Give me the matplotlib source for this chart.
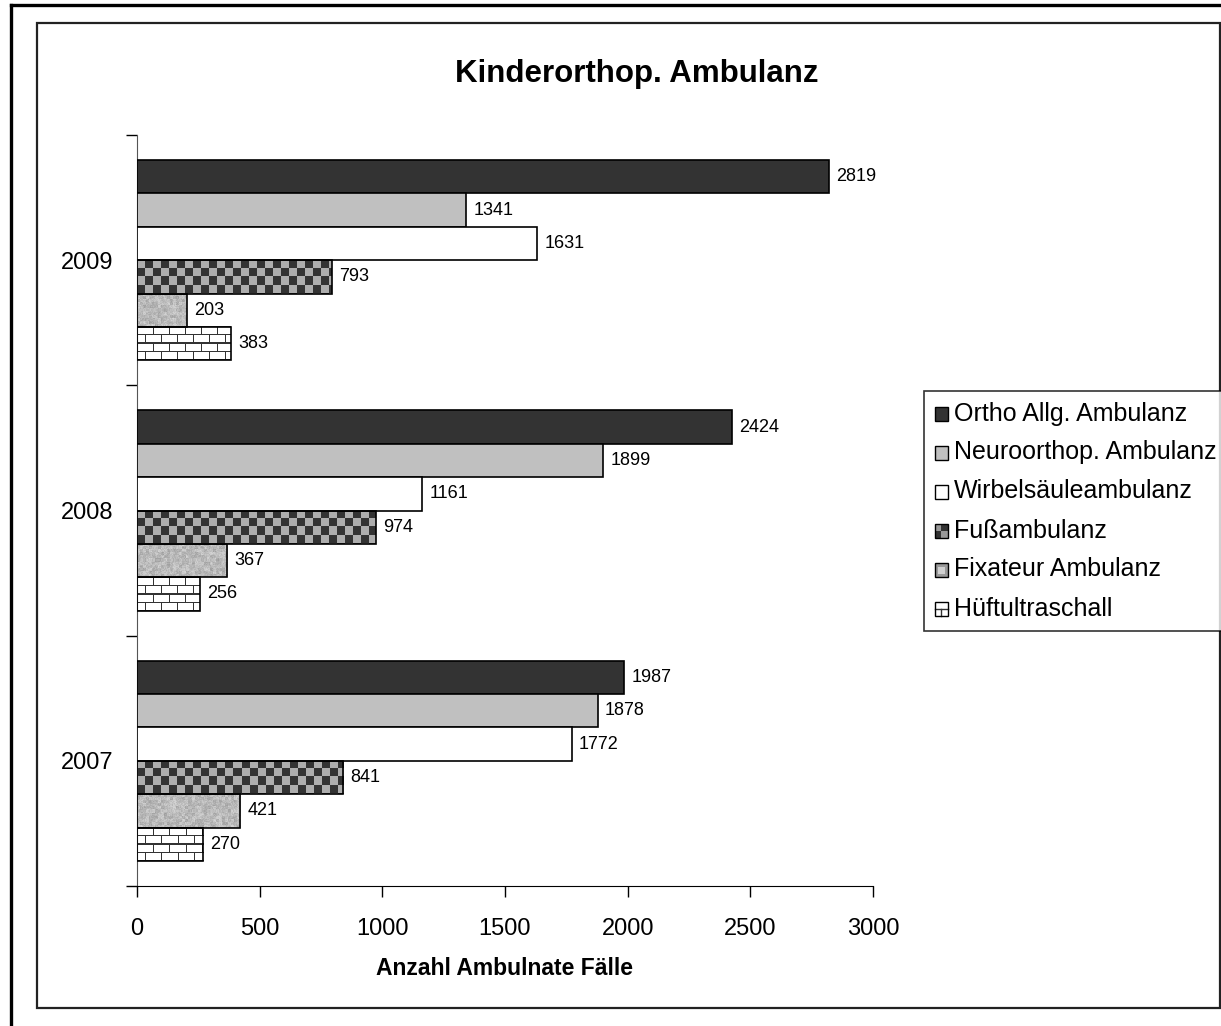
import numpy as np
import matplotlib.pyplot as plt
from matplotlib.patches import Rectangle
from matplotlib.lines import Line2D
from matplotlib.legend_handler import HandlerBase

plt.rcParams['font.family'] = ['Liberation Sans', 'DejaVu Sans']

years = ['2007', '2008', '2009']
series = ['Ortho Allg. Ambulanz', 'Neuroorthop. Ambulanz', 'Wirbelsäuleambulanz',
          'Fußambulanz', 'Fixateur Ambulanz', 'Hüftultraschall']
ortho = [1987, 2424, 2819]
neuro = [1878, 1899, 1341]
wirbel = [1772, 1161, 1631]
fuss = [841, 974, 793]
fixateur = [421, 367, 203]
hueft = [270, 256, 383]
values = [ortho, neuro, wirbel, fuss, fixateur, hueft]
styles = ['#333333', '#c0c0c0', '#ffffff', 'checker', 'granite', 'brick']

W, H = 1221, 1026
fig = plt.figure(figsize=(W / 100, H / 100), dpi=100)
ax_l, ax_b, ax_w, ax_h = 137 / W, 140 / H, 736 / W, 751 / H
ax = fig.add_axes([ax_l, ax_b, ax_w, ax_h])

xmax = 3000
bh = 0.8 / 6
px_x = ax_w * W / xmax      # pixels per data unit in x
px_y = ax_h * H / 3.0       # pixels per data unit in y


def texture(kind, nx, ny):
    jj, ii = np.meshgrid(np.arange(nx), np.arange(ny))
    img = np.ones((ny, nx, 3))
    if kind == 'checker':
        c = ((ii // 8) + (jj // 8)) % 2
        img[c == 1] = 0.2
        img[c == 0] = 0.68
    elif kind == 'brick':
        row = ii // 8
        hline = (ii % 8) == 0
        vline = ((jj + (row % 2) * 8) % 16) == 0
        img[hline | vline] = 0.2
    elif kind == 'granite':
        rng = np.random.default_rng(3)
        base = rng.random((ny // 3 + 2, nx // 3 + 2))
        base = np.kron(base, np.ones((3, 3)))[:ny, :nx]
        fine = rng.random((ny, nx))
        g = 0.62 + 0.22 * (0.6 * base + 0.4 * fine)
        img[:] = g[..., None]
    return img


for k, (vals, st) in enumerate(zip(values, styles)):
    off = (2.5 - k) * bh
    for i, v in enumerate(vals):
        yc = i + off
        if st.startswith('#'):
            ax.barh(yc, v, height=bh, color=st, edgecolor='black', linewidth=1.2, zorder=3)
        else:
            nx = max(int(round(v * px_x)), 2)
            ny = int(round(bh * px_y))
            ax.imshow(texture(st, nx, ny), extent=(0, v, yc - bh / 2, yc + bh / 2),
                      aspect='auto', interpolation='nearest', zorder=2)
            ax.barh(yc, v, height=bh, color='none', edgecolor='black', linewidth=1.2, zorder=3)
        ax.text(v + 30, yc, str(v), va='center', ha='left', fontsize=13)

ax.set_xlim(0, xmax)
ax.set_ylim(-0.5, 2.5)
ax.set_xticks(np.arange(0, 3001, 500))
ax.set_yticks([-0.5, 0.5, 1.5, 2.5])
ax.set_yticklabels([])
ax.set_yticks([0, 1, 2], minor=True)
ax.set_yticklabels(years, minor=True, fontsize=17)
ax.tick_params(axis='y', which='minor', length=0, pad=17)
ax.tick_params(axis='y', which='major', length=8, direction='out', width=1)
ax.tick_params(axis='x', length=8, direction='out', labelsize=17, pad=15, width=1)
for s in ['top', 'right']:
    ax.spines[s].set_visible(False)
ax.spines['left'].set_color('#555555')
ax.set_xlabel('Anzahl Ambulnate Fälle', fontsize=16.5, fontweight='bold', labelpad=12)
fig.text(637 / W, 1 - 74 / H, 'Kinderorthop. Ambulanz', ha='center', va='center',
         fontsize=22.5, fontweight='bold')


class TexHandler(HandlerBase):
    def __init__(self, kind):
        super().__init__()
        self.kind = kind

    def create_artists(self, legend, orig, xd, yd, w, h, fs, trans):
        s = min(w, h)
        x0, y0 = xd, yd + (h - s) / 2
        arts = []
        if self.kind == 'checker':
            for a in range(2):
                for b in range(2):
                    col = '#333333' if (a + b) % 2 == 0 else '#999999'
                    arts.append(Rectangle((x0 + a * s / 2, y0 + b * s / 2), s / 2, s / 2,
                                          facecolor=col, edgecolor='none', transform=trans))
        elif self.kind == 'granite':
            arts.append(Rectangle((x0, y0), s, s, facecolor='#999999', edgecolor='none', transform=trans))
            arts.append(Rectangle((x0 + s * 0.25, y0 + s * 0.25), s * 0.5, s * 0.5,
                                  facecolor='#d0d0d0', edgecolor='none', transform=trans))
        elif self.kind == 'brick':
            arts.append(Rectangle((x0, y0), s, s, facecolor='white', edgecolor='none', transform=trans))
            arts.append(Line2D([x0, x0 + s], [y0 + s / 2] * 2, color='#333333', lw=1, transform=trans))
            arts.append(Line2D([x0 + s / 2] * 2, [y0, y0 + s / 2], color='#333333', lw=1, transform=trans))
        else:
            arts.append(Rectangle((x0, y0), s, s, facecolor=self.kind, edgecolor='none', transform=trans))
        arts.append(Rectangle((x0, y0), s, s, facecolor='none', edgecolor='black', lw=1, transform=trans))
        return arts


handles = [Rectangle((0, 0), 1, 1) for _ in series]
hmap = {hd: TexHandler(st) for hd, st in zip(handles, styles)}
leg = fig.legend(handles, series, handler_map=hmap, loc='upper left',
                 bbox_to_anchor=(924 / W, 1 - 391 / H), fontsize=18, frameon=True,
                 fancybox=False, edgecolor='black', handlelength=0.55, handleheight=0.55,
                 handletextpad=0.22, labelspacing=0.6, borderpad=0.42, borderaxespad=0)
leg.get_frame().set_linewidth(1.2)

# chart frames
fig.add_artist(Rectangle((37 / W, 1 - 1008 / H), (1220 - 37) / W, (1008 - 23) / H,
                         transform=fig.transFigure, facecolor='none', edgecolor='#222222', lw=1.6))
fig.add_artist(Line2D([11 / W, 1], [1 - 5 / H] * 2, transform=fig.transFigure, color='black', lw=2.4))
fig.add_artist(Line2D([11 / W] * 2, [0, 1 - 5 / H], transform=fig.transFigure, color='black', lw=2.4))

fig.savefig('out.png', dpi=100)
